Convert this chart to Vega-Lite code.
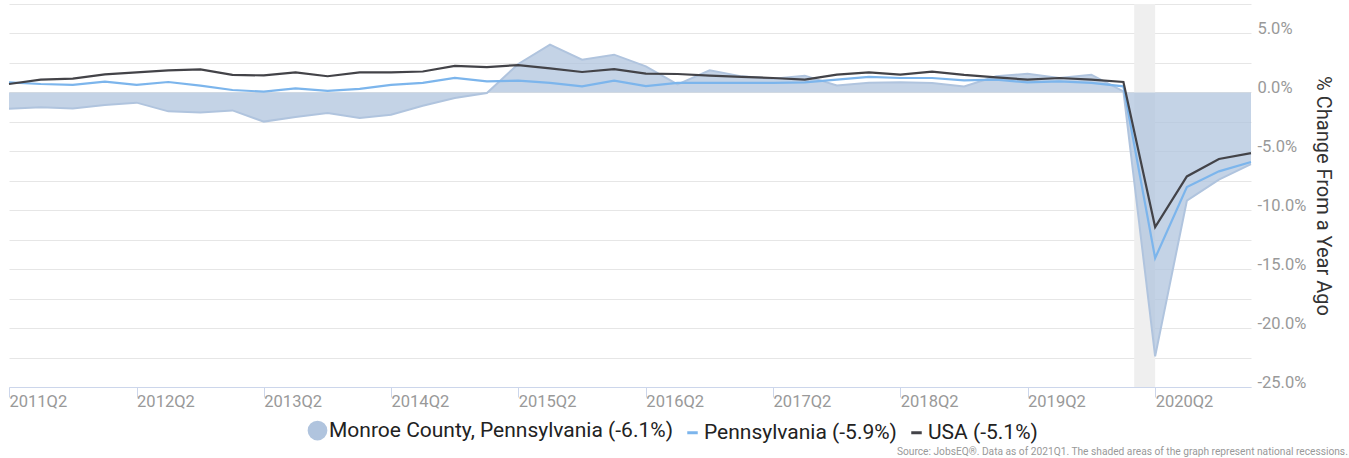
{
  "$schema": "https://vega.github.io/schema/vega-lite/v6.json",
  "width": 1242,
  "height": 383,
  "autosize": {"type": "none"},
  "padding": {"left": 9, "top": 4, "right": 98, "bottom": 71},
  "background": "white",
  "config": {
    "font": "Roboto",
    "view": {"stroke": null},
    "axis": {"labelFont": "Roboto", "titleFont": "Roboto"},
    "legend": {"labelFont": "Roboto"}
  },
  "title": {
    "text": "Source: JobsEQ®. Data as of 2021Q1. The shaded areas of the graph represent national recessions.",
    "orient": "bottom",
    "anchor": "end",
    "font": "Roboto",
    "fontSize": 10.2,
    "fontWeight": "normal",
    "color": "#999999",
    "dx": 15,
    "offset": 2
  },
  "datasets": {
    "recessions": [{"start": "2020-02-01", "end": "2020-04-01"}],
    "series": [
      {"date": "2011-04-01", "Monroe": -1.38, "Pennsylvania": 0.85, "USA": 0.71},
      {"date": "2011-07-01", "Monroe": -1.27, "Pennsylvania": 0.71, "USA": 1.08},
      {"date": "2011-10-01", "Monroe": -1.36, "Pennsylvania": 0.63, "USA": 1.16},
      {"date": "2012-01-01", "Monroe": -1.07, "Pennsylvania": 0.91, "USA": 1.53},
      {"date": "2012-04-01", "Monroe": -0.87, "Pennsylvania": 0.63, "USA": 1.70},
      {"date": "2012-07-01", "Monroe": -1.61, "Pennsylvania": 0.88, "USA": 1.87},
      {"date": "2012-10-01", "Monroe": -1.70, "Pennsylvania": 0.57, "USA": 1.95},
      {"date": "2013-01-01", "Monroe": -1.53, "Pennsylvania": 0.20, "USA": 1.48},
      {"date": "2013-04-01", "Monroe": -2.48, "Pennsylvania": 0.06, "USA": 1.44},
      {"date": "2013-07-01", "Monroe": -2.09, "Pennsylvania": 0.34, "USA": 1.70},
      {"date": "2013-10-01", "Monroe": -1.75, "Pennsylvania": 0.13, "USA": 1.37},
      {"date": "2014-01-01", "Monroe": -2.17, "Pennsylvania": 0.30, "USA": 1.69},
      {"date": "2014-04-01", "Monroe": -1.89, "Pennsylvania": 0.64, "USA": 1.70},
      {"date": "2014-07-01", "Monroe": -1.13, "Pennsylvania": 0.80, "USA": 1.77},
      {"date": "2014-10-01", "Monroe": -0.48, "Pennsylvania": 1.23, "USA": 2.25},
      {"date": "2015-01-01", "Monroe": -0.05, "Pennsylvania": 0.93, "USA": 2.15},
      {"date": "2015-04-01", "Monroe": 2.41, "Pennsylvania": 0.99, "USA": 2.32},
      {"date": "2015-07-01", "Monroe": 4.05, "Pennsylvania": 0.80, "USA": 2.04},
      {"date": "2015-10-01", "Monroe": 2.78, "Pennsylvania": 0.51, "USA": 1.73},
      {"date": "2016-01-01", "Monroe": 3.20, "Pennsylvania": 0.99, "USA": 1.98},
      {"date": "2016-04-01", "Monroe": 2.21, "Pennsylvania": 0.54, "USA": 1.60},
      {"date": "2016-07-01", "Monroe": 0.68, "Pennsylvania": 0.80, "USA": 1.56},
      {"date": "2016-10-01", "Monroe": 1.87, "Pennsylvania": 0.80, "USA": 1.42},
      {"date": "2017-01-01", "Monroe": 1.36, "Pennsylvania": 0.80, "USA": 1.31},
      {"date": "2017-04-01", "Monroe": 1.16, "Pennsylvania": 0.80, "USA": 1.22},
      {"date": "2017-07-01", "Monroe": 1.42, "Pennsylvania": 0.85, "USA": 1.08},
      {"date": "2017-10-01", "Monroe": 0.58, "Pennsylvania": 1.08, "USA": 1.50},
      {"date": "2018-01-01", "Monroe": 0.82, "Pennsylvania": 1.31, "USA": 1.70},
      {"date": "2018-04-01", "Monroe": 0.85, "Pennsylvania": 1.22, "USA": 1.50},
      {"date": "2018-07-01", "Monroe": 0.80, "Pennsylvania": 1.22, "USA": 1.76},
      {"date": "2018-10-01", "Monroe": 0.51, "Pennsylvania": 1.02, "USA": 1.48},
      {"date": "2019-01-01", "Monroe": 1.36, "Pennsylvania": 1.08, "USA": 1.27},
      {"date": "2019-04-01", "Monroe": 1.59, "Pennsylvania": 0.85, "USA": 1.08},
      {"date": "2019-07-01", "Monroe": 1.22, "Pennsylvania": 0.93, "USA": 1.22},
      {"date": "2019-10-01", "Monroe": 1.50, "Pennsylvania": 0.80, "USA": 1.08},
      {"date": "2020-01-01", "Monroe": 0.08, "Pennsylvania": 0.51, "USA": 0.88},
      {"date": "2020-04-01", "Monroe": -22.4, "Pennsylvania": -14.06, "USA": -11.43},
      {"date": "2020-07-01", "Monroe": -9.19, "Pennsylvania": -8.03, "USA": -7.13},
      {"date": "2020-10-01", "Monroe": -7.41, "Pennsylvania": -6.70, "USA": -5.65},
      {"date": "2021-01-01", "Monroe": -6.08, "Pennsylvania": -5.91, "USA": -5.15}
    ]
  },
  "layer": [
    {
      "data": {"name": "recessions"},
      "mark": {"type": "rect", "color": "#efefef"},
      "encoding": {
        "x": {
          "field": "start",
          "type": "temporal",
          "scale": {
            "type": "utc",
            "nice": false,
            "domain": [
              {"year": 2011, "month": 4, "date": 1, "utc": true},
              {"year": 2021, "month": 1, "date": 1, "utc": true}
            ]
          },
          "axis": {
            "values": [
              {"year": 2011, "month": 4, "date": 1, "utc": true},
              {"year": 2012, "month": 4, "date": 1, "utc": true},
              {"year": 2013, "month": 4, "date": 1, "utc": true},
              {"year": 2014, "month": 4, "date": 1, "utc": true},
              {"year": 2015, "month": 4, "date": 1, "utc": true},
              {"year": 2016, "month": 4, "date": 1, "utc": true},
              {"year": 2017, "month": 4, "date": 1, "utc": true},
              {"year": 2018, "month": 4, "date": 1, "utc": true},
              {"year": 2019, "month": 4, "date": 1, "utc": true},
              {"year": 2020, "month": 4, "date": 1, "utc": true}
            ],
            "format": "%YQ%q",
            "title": null,
            "grid": false,
            "labelAlign": "left",
            "labelBaseline": "top",
            "labelDx": 1,
            "labelFlush": false,
            "labelOverlap": false,
            "labelColor": "#999999",
            "labelFontSize": 16.5,
            "labelPadding": -4,
            "tickSize": 10,
            "tickColor": "#ccd6eb",
            "domainColor": "#ccd6eb"
          }
        },
        "x2": {"field": "end"}
      }
    },
    {
      "data": {"name": "series"},
      "transform": [
        {"fold": ["Monroe", "Pennsylvania", "USA"], "as": ["series", "value"]}
      ],
      "encoding": {
        "x": {
          "field": "date",
          "type": "temporal",
          "scale": {
            "type": "utc",
            "nice": false,
            "domain": [
              {"year": 2011, "month": 4, "date": 1, "utc": true},
              {"year": 2021, "month": 1, "date": 1, "utc": true}
            ]
          },
          "axis": {
            "values": [
              {"year": 2011, "month": 4, "date": 1, "utc": true},
              {"year": 2012, "month": 4, "date": 1, "utc": true},
              {"year": 2013, "month": 4, "date": 1, "utc": true},
              {"year": 2014, "month": 4, "date": 1, "utc": true},
              {"year": 2015, "month": 4, "date": 1, "utc": true},
              {"year": 2016, "month": 4, "date": 1, "utc": true},
              {"year": 2017, "month": 4, "date": 1, "utc": true},
              {"year": 2018, "month": 4, "date": 1, "utc": true},
              {"year": 2019, "month": 4, "date": 1, "utc": true},
              {"year": 2020, "month": 4, "date": 1, "utc": true}
            ],
            "format": "%YQ%q",
            "title": null,
            "grid": false,
            "labelAlign": "left",
            "labelBaseline": "top",
            "labelDx": 1,
            "labelFlush": false,
            "labelOverlap": false,
            "labelColor": "#999999",
            "labelFontSize": 16.5,
            "labelPadding": -4,
            "tickSize": 10,
            "tickColor": "#ccd6eb",
            "domainColor": "#ccd6eb"
          }
        },
        "y": {
          "field": "value",
          "type": "quantitative",
          "stack": null,
          "scale": {"domain": [-25, 7.5], "nice": false},
          "axis": {
            "orient": "right",
            "values": [-25, -22.5, -20, -17.5, -15, -12.5, -10, -7.5, -5, -2.5, 0, 2.5, 5, 7.5],
            "labelExpr": "datum.value % 5 == 0 ? (datum.value < 0 ? '-' : '') + format(abs(datum.value), '.1f') + '%' : ''",
            "grid": true,
            "gridColor": "#e6e6e6",
            "domain": false,
            "ticks": false,
            "labelPadding": 6,
            "labelBaseline": "alphabetic",
            "labelFlush": false,
            "labelOverlap": false,
            "labelColor": "#999999",
            "labelFontSize": 16.5,
            "title": "% Change From a Year Ago",
            "titleFontSize": 20,
            "titleFontWeight": "normal",
            "titleColor": "#333333",
            "titlePadding": 7
          }
        },
        "color": {
          "field": "series",
          "type": "nominal",
          "scale": {
            "domain": ["Monroe", "Pennsylvania", "USA"],
            "range": ["#b0c4de", "#7cb5ec", "#434348"]
          },
          "legend": {
            "orient": "none",
            "legendX": 298,
            "legendY": 416,
            "direction": "horizontal",
            "title": null,
            "labelExpr": "datum.value == 'Monroe' ? 'Monroe County, Pennsylvania (-6.1%)' : datum.value == 'Pennsylvania' ? 'Pennsylvania (-5.9%)' : 'USA (-5.1%)'",
            "labelFontSize": 21,
            "labelColor": "#222222",
            "labelLimit": 0,
            "labelOffset": 1,
            "columnPadding": 8,
            "symbolSize": 250,
            "encode": {
              "symbols": {
                "update": {
                  "shape": {"signal": "datum.value == 'Monroe' ? 'circle' : 'stroke'"},
                  "size": {"signal": "datum.value == 'Monroe' ? 280 : 110"},
                  "fill": {"signal": "datum.value == 'Monroe' ? '#b0c4de' : 'transparent'"},
                  "stroke": {"signal": "datum.value == 'Monroe' ? 'transparent' : (datum.value == 'USA' ? '#434348' : '#7cb5ec')"},
                  "strokeWidth": {"value": 3},
                  "opacity": {"value": 1},
                  "fillOpacity": {"value": 1},
                  "strokeOpacity": {"value": 1}
                }
              }
            }
          }
        }
      },
      "layer": [
        {
          "transform": [{"filter": "datum.series == 'Monroe'"}],
          "mark": {"type": "area", "fillOpacity": 0.75, "line": {"strokeWidth": 2}}
        },
        {
          "transform": [{"filter": "datum.series != 'Monroe'"}],
          "mark": {"type": "line", "strokeWidth": 2.2}
        }
      ]
    }
  ]
}
